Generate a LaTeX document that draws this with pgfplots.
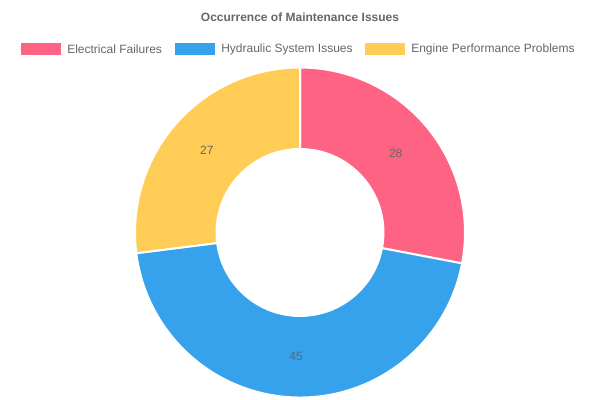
\documentclass[border=0pt]{standalone}
\usepackage{pgfplots}
\pgfplotsset{compat=1.18}
\usepackage{pgfplotstable}
\usepackage{fontspec}
\setmainfont{Liberation Sans}
\usetikzlibrary{calc}

\definecolor{elec}{RGB}{255,99,132}
\definecolor{hydr}{RGB}{54,162,235}
\definecolor{engi}{RGB}{255,205,86}
\definecolor{txt}{HTML}{666666}

\pgfplotstableread[col sep=comma]{
label,value
Electrical Failures,28
Hydraulic System Issues,45
Engine Performance Problems,27
}\issues

% ring sizes (1 px = 0.75pt)
\def\Rout{123.75pt}
\def\Rin{62.6pt}
\def\Rdiff{61.15pt}
\def\Rmid{93.2pt}

% #1 colour, #2 start angle, #3 end angle, #4 value
\newcommand\ringslice[4]{%
  \fill[#1,draw=white,line width=1.5pt] (axis cs:300,167.5) ++(#2:\Rout)
    arc[start angle=#2,end angle=#3,radius=\Rout] -- ++({#3+180}:\Rdiff)
    arc[start angle=#3,end angle=#2,radius=\Rin] -- cycle;
  \node[txt,font=\fontsize{9}{11}\selectfont] at
    ($(axis cs:300,167.5)+({(#2+#3)/2}:\Rmid)$) {#4};
}

\begin{document}
\begin{tikzpicture}
\pgfplotstablegetelem{0}{value}\of\issues\let\va\pgfplotsretval
\pgfplotstablegetelem{1}{value}\of\issues\let\vb\pgfplotsretval
\pgfplotstablegetelem{2}{value}\of\issues\let\vc\pgfplotsretval
\pgfmathsetmacro\total{\va+\vb+\vc}
\pgfmathsetmacro\aA{90}
\pgfmathsetmacro\aB{\aA-360*\va/\total}
\pgfmathsetmacro\aC{\aB-360*\vb/\total}
\pgfmathsetmacro\aD{\aC-360*\vc/\total}
\begin{axis}[
  scale only axis,
  width=450pt, height=300pt,
  xmin=0, xmax=600, ymin=0, ymax=400,
  hide axis,
  clip=false
]
\node[txt,font=\bfseries\fontsize{9}{11}\selectfont] at (axis cs:300,383)
  {Occurrence of Maintenance Issues};

% legend
\fill[elec] (axis cs:21,345) rectangle (axis cs:61,357);
\node[txt,anchor=west,inner sep=0pt,font=\fontsize{9}{11}\selectfont]
  at (axis cs:67,351) {Electrical Failures};
\fill[hydr] (axis cs:175,345) rectangle (axis cs:215,357);
\node[txt,anchor=west,inner sep=0pt,font=\fontsize{9}{11}\selectfont]
  at (axis cs:221,351) {Hydraulic System Issues};
\fill[engi] (axis cs:365,345) rectangle (axis cs:405,357);
\node[txt,anchor=west,inner sep=0pt,font=\fontsize{9}{11}\selectfont]
  at (axis cs:411,351) {Engine Performance Problems};

% doughnut
\ringslice{elec}{\aA}{\aB}{\va}
\ringslice{hydr}{\aB}{\aC}{\vb}
\ringslice{engi}{\aC}{\aD}{\vc}
\end{axis}
\pgfresetboundingbox
\useasboundingbox (0,0) rectangle (450pt,300pt);
\end{tikzpicture}
\end{document}
